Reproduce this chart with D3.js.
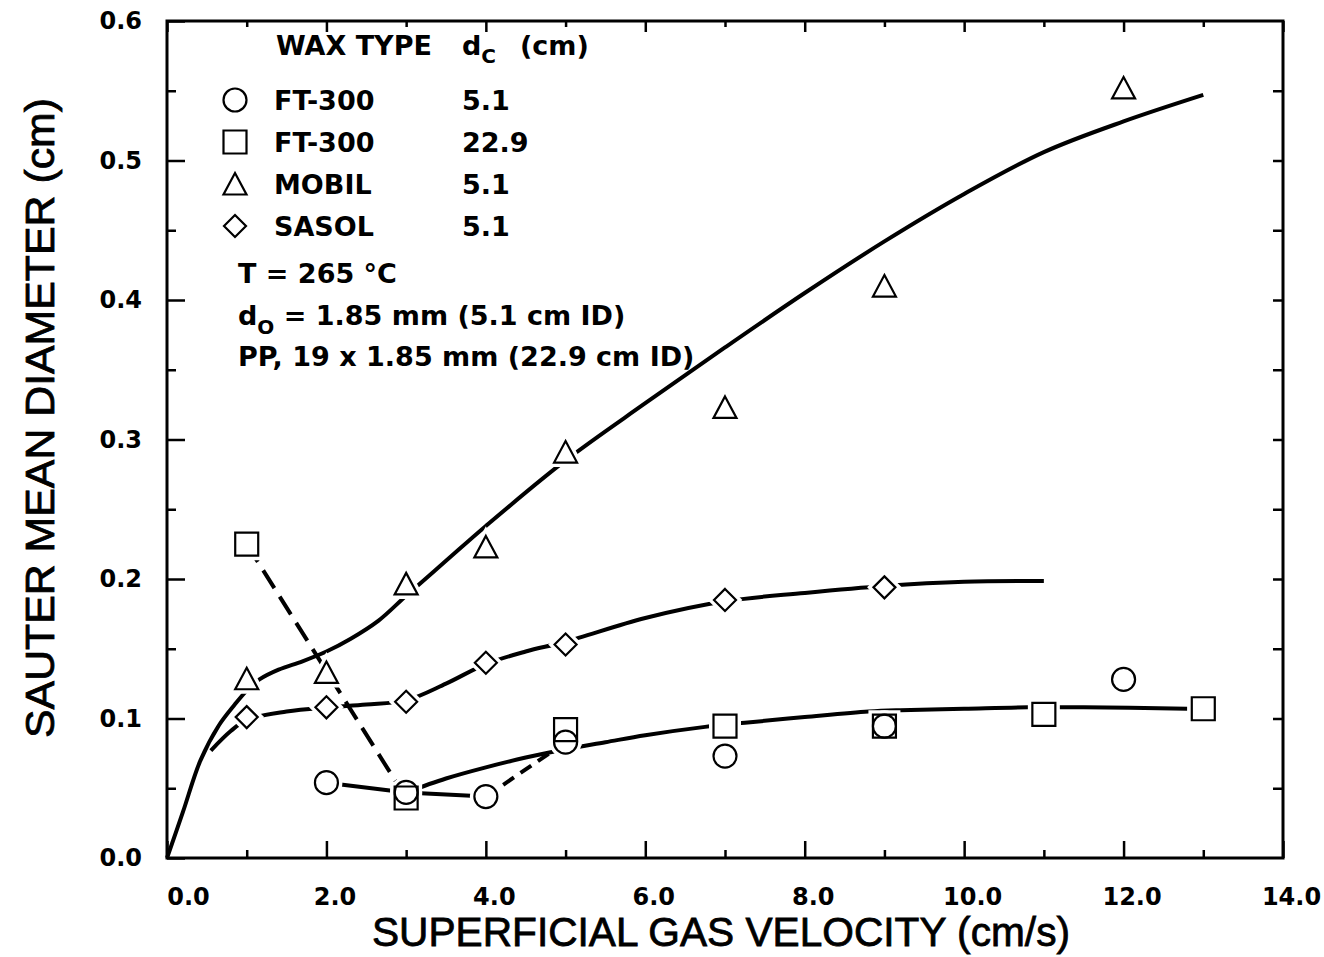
<!DOCTYPE html>
<html>
<head>
<meta charset="utf-8">
<script src="https://cdn.jsdelivr.net/npm/d3@7"></script>
<style>
  body { margin: 0; background: #fff; }
  svg { display: block; }
  text { font-family: "DejaVu Sans", sans-serif; fill: #000; }
  .tick-label { font-size: 24px; font-weight: bold; }
  .legend { font-size: 27px; font-weight: bold; }
  .title { font-family: "Liberation Sans", Arial, sans-serif; font-size: 41px; stroke: #000; stroke-width: 0.8px; }
</style>
</head>
<body>
<svg id="chart" width="1324" height="957"></svg>
<script>
// axis ticks
const xTickValues = [0, 2, 4, 6, 8, 10, 12, 14];
const xTickLabels = ["0.0", "2.0", "4.0", "6.0", "8.0", "10.0", "12.0", "14.0"];
const xMinorValues = [1, 3, 5, 7, 9, 11, 13];
const yTickValues = [0, 0.1, 0.2, 0.3, 0.4, 0.5, 0.6];
const yTickLabels = ["0.0", "0.1", "0.2", "0.3", "0.4", "0.5", "0.6"];
const yMinorValues = [0.05, 0.15, 0.25, 0.35, 0.45, 0.55];

// measured points
// FT-300, dc 5.1 cm (circles)
const ft300SmallX = [2, 3, 4, 5, 7, 9, 12];
const ft300SmallY = [0.054, 0.047, 0.044, 0.083, 0.073, 0.0945, 0.128];
// FT-300, dc 22.9 cm (squares)
const ft300LargeX = [1, 3, 5, 7, 9, 11, 13];
const ft300LargeY = [0.225, 0.043, 0.092, 0.0945, 0.0945, 0.103, 0.107];
// MOBIL, dc 5.1 cm (triangles)
const mobilX = [1, 2, 3, 4, 5, 7, 9, 12];
const mobilY = [0.1285, 0.133, 0.1965, 0.223, 0.291, 0.323, 0.410, 0.552];
// SASOL, dc 5.1 cm (diamonds)
const sasolX = [1, 2, 3, 4, 5, 7, 9];
const sasolY = [0.101, 0.108, 0.112, 0.140, 0.153, 0.185, 0.194];

// hand drawn fit curves
const mobilFitX = [0, 0.2, 0.42, 0.65, 0.85, 1.0, 1.16, 1.4, 1.7, 2.0, 2.3, 2.65, 3.0, 3.5, 4.0, 5.0, 6.0, 7.0, 8.0, 9.0, 10.0, 11.0, 12.0, 13.0];
const mobilFitY = [0, 0.033, 0.07, 0.095, 0.11, 0.12, 0.128, 0.135, 0.141, 0.148, 0.157, 0.17, 0.188, 0.213, 0.238, 0.285, 0.326, 0.366, 0.405, 0.442, 0.476, 0.506, 0.528, 0.547];
const sasolFitX = [0.55, 0.8, 1.0, 1.5, 2.0, 2.5, 3.0, 3.5, 4.0, 4.5, 5.0, 6.0, 7.0, 8.0, 9.0, 10.0, 11.0];
const sasolFitY = [0.077, 0.091, 0.099, 0.105, 0.108, 0.110, 0.113, 0.125, 0.139, 0.148, 0.155, 0.172, 0.184, 0.190, 0.195, 0.198, 0.1985];
const ft300FitX = [3.0, 3.5, 4.0, 4.5, 5.0, 5.5, 6.0, 6.75, 7.25, 8.0, 8.8, 9.2, 10.0, 10.8, 11.5, 12.8];
const ft300FitY = [0.047, 0.057, 0.065, 0.072, 0.078, 0.083, 0.088, 0.094, 0.097, 0.101, 0.105, 0.106, 0.107, 0.108, 0.108, 0.107];

// legend rows
const legendNames = ["FT-300", "FT-300", "MOBIL", "SASOL"];
const legendDc = ["5.1", "22.9", "5.1", "5.1"];
const legendShapes = ["circle", "square", "triangle", "diamond"];

const frame = {left: 167, right: 1283, top: 21, bottom: 858};
const svg = d3.select("#chart");

const x = d3.scaleLinear().domain([0, 14]).range([frame.left, frame.right]);
const y = d3.scaleLinear().domain([0, 0.6]).range([frame.bottom, frame.top]);

function shapePath(kind) {
  const p = d3.path();
  if (kind === "circle") {
    p.arc(0, 0, 11.5, 0, 2 * Math.PI);
  } else if (kind === "square") {
    p.rect(-11.5, -11.5, 23, 23);
  } else if (kind === "triangle") {
    p.moveTo(0, -11);
    p.lineTo(11.5, 10.5);
    p.lineTo(-11.5, 10.5);
    p.closePath();
  } else {
    p.moveTo(0, -11);
    p.lineTo(11, 0);
    p.lineTo(0, 11);
    p.lineTo(-11, 0);
    p.closePath();
  }
  return p.toString();
}

function styleAxis(g) {
  g.select(".domain").remove();
  g.attr("font-size", null).attr("font-family", null);
  g.selectAll("line").attr("stroke-width", 2.5);
}

function drawAxes() {
  // bottom
  const gb = svg.append("g").attr("transform", "translate(0," + frame.bottom + ")")
    .call(d3.axisBottom(x).tickValues(xTickValues).tickFormat((d, i) => xTickLabels[i])
      .tickSizeInner(-17).tickSizeOuter(0).tickPadding(30));
  styleAxis(gb);
  gb.selectAll("text").attr("class", "tick-label").attr("dx", (d, i) => i === 0 ? 21 : 8);
  svg.append("g").attr("transform", "translate(0," + frame.bottom + ")")
    .call(d3.axisBottom(x).tickValues(xMinorValues).tickFormat("").tickSizeInner(-8).tickSizeOuter(0))
    .call(styleAxis);

  // top
  svg.append("g").attr("transform", "translate(0," + frame.top + ")")
    .call(d3.axisTop(x).tickValues(xTickValues).tickFormat("").tickSizeInner(-11).tickSizeOuter(0))
    .call(styleAxis);
  svg.append("g").attr("transform", "translate(0," + frame.top + ")")
    .call(d3.axisTop(x).tickValues(xMinorValues).tickFormat("").tickSizeInner(-6).tickSizeOuter(0))
    .call(styleAxis);

  // left
  const gl = svg.append("g").attr("transform", "translate(" + frame.left + ",0)")
    .call(d3.axisLeft(y).tickValues(yTickValues).tickFormat((d, i) => yTickLabels[i])
      .tickSizeInner(-18).tickSizeOuter(0).tickPadding(25));
  styleAxis(gl);
  gl.selectAll("text").attr("class", "tick-label");
  svg.append("g").attr("transform", "translate(" + frame.left + ",0)")
    .call(d3.axisLeft(y).tickValues(yMinorValues).tickFormat("").tickSizeInner(-9).tickSizeOuter(0))
    .call(styleAxis);

  // right
  svg.append("g").attr("transform", "translate(" + frame.right + ",0)")
    .call(d3.axisRight(y).tickValues(yTickValues.slice(1, 6).concat(yMinorValues)).tickFormat("").tickSizeInner(-10).tickSizeOuter(0))
    .call(styleAxis);

  svg.append("rect")
    .attr("x", frame.left).attr("y", frame.top)
    .attr("width", frame.right - frame.left).attr("height", frame.bottom - frame.top)
    .attr("fill", "none").attr("stroke", "#000").attr("stroke-width", 3);

  svg.append("text").attr("class", "title")
    .attr("x", 721).attr("y", 946).attr("text-anchor", "middle")
    .attr("textLength", 698).attr("lengthAdjust", "spacingAndGlyphs")
    .text("SUPERFICIAL GAS VELOCITY (cm/s)");

  svg.append("text").attr("class", "title")
    .attr("transform", "translate(54,418) rotate(-90)")
    .attr("text-anchor", "middle")
    .attr("textLength", 640).attr("lengthAdjust", "spacingAndGlyphs")
    .text("SAUTER MEAN DIAMETER (cm)");
}

function drawLines() {
  const curve = d3.line().x(d => x(d[0])).y(d => y(d[1])).curve(d3.curveCatmullRom.alpha(0.5));
  const straight = d3.line().x(d => x(d[0])).y(d => y(d[1]));

  const fits = [d3.zip(mobilFitX, mobilFitY), d3.zip(sasolFitX, sasolFitY), d3.zip(ft300FitX, ft300FitY)];
  svg.selectAll(".fit").data(fits).enter().append("path")
    .attr("class", "fit")
    .attr("d", curve)
    .attr("fill", "none").attr("stroke", "#000").attr("stroke-width", 4);

  const circles = d3.zip(ft300SmallX, ft300SmallY);
  const squares = d3.zip(ft300LargeX, ft300LargeY);

  // circles at 2, 3, 4 joined, then dashed to 5
  svg.append("path").attr("d", straight(circles.slice(0, 3)))
    .attr("fill", "none").attr("stroke", "#000").attr("stroke-width", 4);
  svg.append("path").attr("d", straight(circles.slice(2, 4)))
    .attr("fill", "none").attr("stroke", "#000").attr("stroke-width", 4)
    .attr("stroke-dasharray", "13,8");
  // squares at 1 and 3 dashed
  svg.append("path").attr("d", straight(squares.slice(0, 2)))
    .attr("fill", "none").attr("stroke", "#000").attr("stroke-width", 4)
    .attr("stroke-dasharray", "21,10");
}

function drawMarkers() {
  const pts = [];
  d3.zip(ft300LargeX, ft300LargeY).forEach(d => pts.push({x: d[0], y: d[1], kind: "square"}));
  d3.zip(ft300SmallX, ft300SmallY).forEach(d => pts.push({x: d[0], y: d[1], kind: "circle"}));
  d3.zip(mobilX, mobilY).forEach(d => pts.push({x: d[0], y: d[1], kind: "triangle"}));
  d3.zip(sasolX, sasolY).forEach(d => pts.push({x: d[0], y: d[1], kind: "diamond"}));

  // white halo so lines break round the markers
  svg.append("g").selectAll("path").data(pts).enter().append("path")
    .attr("transform", d => "translate(" + x(d.x) + "," + y(d.y) + ")")
    .attr("d", d => shapePath(d.kind))
    .attr("fill", "#fff").attr("stroke", "#fff").attr("stroke-width", 9);

  svg.append("g").selectAll("path").data(pts).enter().append("path")
    .attr("transform", d => "translate(" + x(d.x) + "," + y(d.y) + ")")
    .attr("d", d => shapePath(d.kind))
    .attr("fill", "none").attr("stroke", "#000").attr("stroke-width", 2.2);
}

function drawLegend() {
  const g = svg.append("g");
  const head = g.append("text").attr("class", "legend").attr("y", 55);
  head.append("tspan").attr("x", 276).text("WAX TYPE");
  head.append("tspan").attr("x", 462).text("d");
  head.append("tspan").attr("dy", 8).style("font-size", "20px").text("C");
  head.append("tspan").attr("x", 520).attr("dy", -8).text("(cm)");

  const rows = g.selectAll(".row").data(legendNames).enter().append("g")
    .attr("class", "row")
    .attr("transform", (d, i) => "translate(0," + (100 + i * 42) + ")");
  rows.append("path")
    .attr("transform", "translate(235,0)")
    .attr("d", (d, i) => shapePath(legendShapes[i]))
    .attr("fill", "none").attr("stroke", "#000").attr("stroke-width", 2.2);
  rows.append("text").attr("class", "legend").attr("x", 274).attr("y", 10).text(d => d);
  rows.append("text").attr("class", "legend").attr("x", 462).attr("y", 10).text((d, i) => legendDc[i]);

  g.append("text").attr("class", "legend").attr("x", 238).attr("y", 283).text("T = 265 \u00B0C");
  const dO = g.append("text").attr("class", "legend").attr("x", 238).attr("y", 325);
  dO.append("tspan").text("d");
  dO.append("tspan").attr("dy", 9).style("font-size", "20px").text("O");
  dO.append("tspan").attr("dy", -9).text(" = 1.85 mm (5.1 cm ID)");
  g.append("text").attr("class", "legend").attr("x", 238).attr("y", 366).text("PP, 19 x 1.85 mm (22.9 cm ID)");
}

drawAxes();
drawLines();
drawMarkers();
drawLegend();
</script>
</body>
</html>
